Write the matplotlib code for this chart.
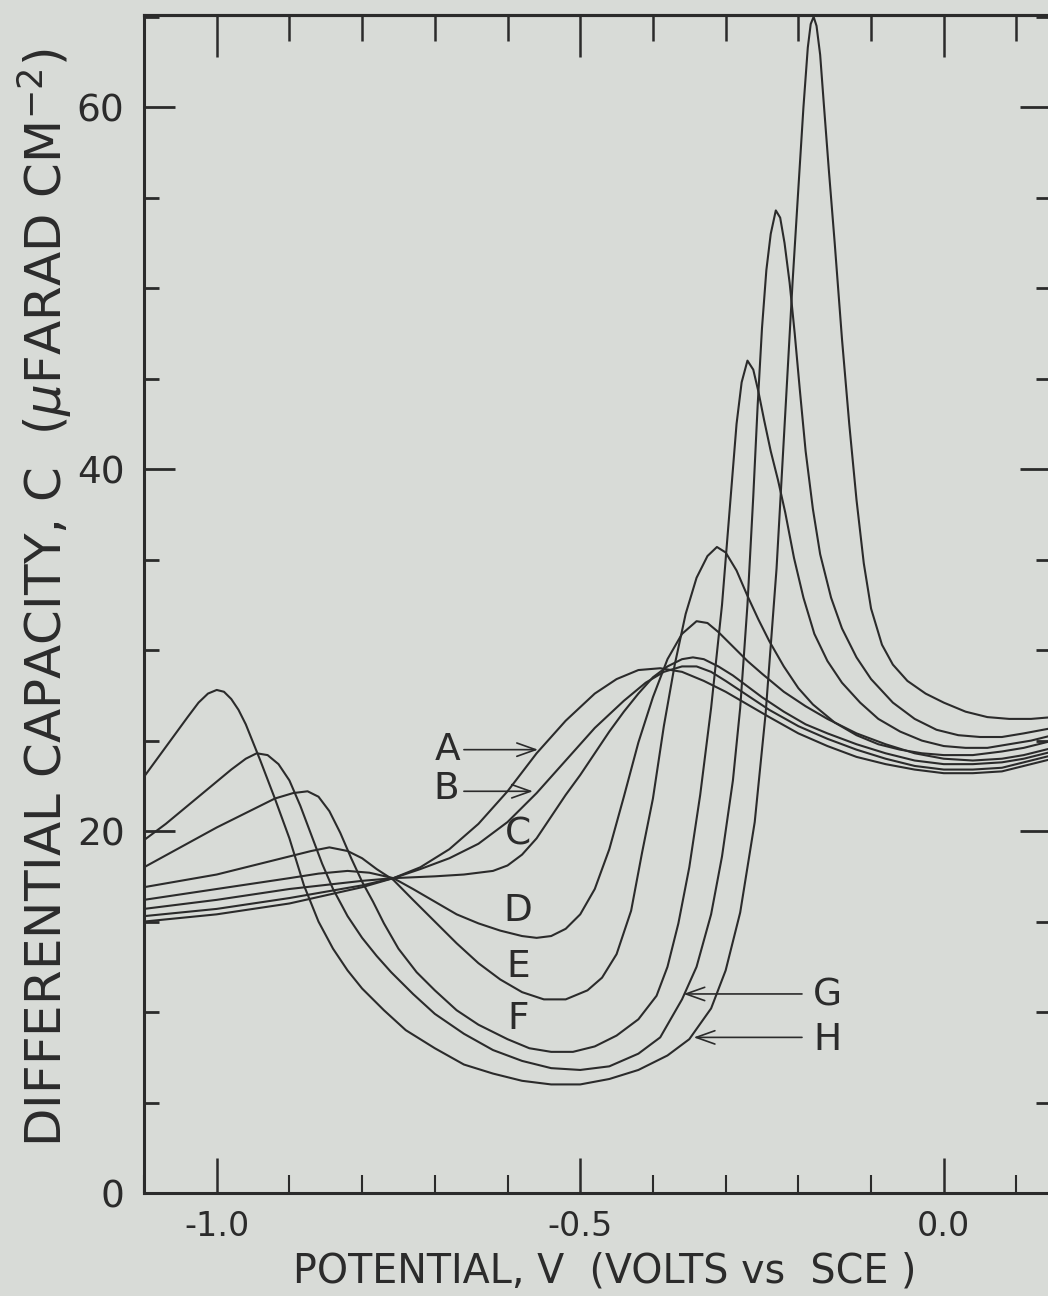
import numpy as np
import matplotlib.pyplot as plt
from matplotlib.ticker import MultipleLocator, FixedLocator

plt.rcParams['axes.unicode_minus'] = False
plt.rcParams['font.family'] = 'DejaVu Sans'

# Capacidad diferencial vs potencial, curvas A-H (volts vs SCE, uF/cm2)
v_a = [-1.1, -1.0, -0.9, -0.8, -0.757, -0.72, -0.68, -0.64, -0.6, -0.56, -0.52, -0.48,
       -0.45, -0.42, -0.39, -0.36, -0.33, -0.3, -0.27, -0.24, -0.2, -0.16, -0.12, -0.08,
       -0.04, 0.0, 0.04, 0.08, 0.11, 0.15]
c_a = [15.0, 15.4, 16.0, 16.9, 17.4, 18.0, 19.0, 20.4, 22.2, 24.3, 26.1, 27.6,
       28.4, 28.9, 29.0, 28.8, 28.3, 27.7, 27.0, 26.3, 25.4, 24.7, 24.1, 23.7,
       23.4, 23.2, 23.2, 23.3, 23.6, 24.0]

v_b = [-1.1, -1.0, -0.9, -0.8, -0.757, -0.72, -0.68, -0.64, -0.6, -0.56, -0.52, -0.48,
       -0.44, -0.41, -0.385, -0.36, -0.34, -0.32, -0.3, -0.27, -0.24, -0.2, -0.16, -0.12,
       -0.08, -0.04, 0.0, 0.04, 0.08, 0.11, 0.15]
c_b = [15.3, 15.7, 16.3, 17.0, 17.4, 17.9, 18.5, 19.3, 20.5, 22.1, 23.9, 25.7,
       27.2, 28.2, 28.8, 29.1, 29.1, 28.8, 28.3, 27.5, 26.7, 25.8, 25.1, 24.5,
       24.0, 23.6, 23.4, 23.4, 23.5, 23.8, 24.2]

v_c = [-1.1, -1.0, -0.9, -0.8, -0.757, -0.7, -0.66, -0.62, -0.6, -0.58, -0.56, -0.54,
       -0.52, -0.5, -0.48, -0.46, -0.44, -0.42, -0.4, -0.38, -0.36, -0.345, -0.33, -0.31,
       -0.29, -0.27, -0.25, -0.22, -0.19, -0.16, -0.12, -0.08, -0.04, 0.0, 0.04, 0.08,
       0.11, 0.15]
c_c = [15.7, 16.2, 16.8, 17.25, 17.4, 17.5, 17.6, 17.8, 18.1, 18.7, 19.6, 20.8,
       22.0, 23.1, 24.3, 25.5, 26.6, 27.6, 28.5, 29.1, 29.5, 29.6, 29.5, 29.1,
       28.6, 28.0, 27.4, 26.6, 25.9, 25.4, 24.8, 24.3, 23.9, 23.7, 23.7, 23.8,
       24.0, 24.4]

v_d = [-1.1, -1.0, -0.95, -0.9, -0.86, -0.82, -0.79, -0.757, -0.73, -0.7, -0.67, -0.64,
       -0.61, -0.58, -0.56, -0.54, -0.52, -0.5, -0.48, -0.46, -0.44, -0.42, -0.4, -0.38,
       -0.36, -0.34, -0.325, -0.31, -0.29, -0.27, -0.25, -0.22, -0.19, -0.16, -0.12,
       -0.08, -0.04, 0.0, 0.04, 0.08, 0.11, 0.15]
c_d = [16.2, 16.8, 17.1, 17.4, 17.65, 17.8, 17.7, 17.4, 16.8, 16.1, 15.4, 14.9,
       14.5, 14.2, 14.1, 14.2, 14.6, 15.4, 16.8, 19.0, 21.9, 24.9, 27.4, 29.5,
       30.9, 31.6, 31.5, 31.0, 30.2, 29.4, 28.7, 27.7, 26.9, 26.2, 25.4,
       24.8, 24.3, 24.0, 23.9, 24.0, 24.2, 24.6]

v_e = [-1.1, -1.0, -0.95, -0.9, -0.87, -0.845, -0.82, -0.8, -0.78, -0.757, -0.73, -0.7,
       -0.67, -0.64, -0.61, -0.58, -0.55, -0.52, -0.49, -0.47, -0.45, -0.43, -0.415, -0.4,
       -0.385, -0.37, -0.355, -0.34, -0.325, -0.312, -0.3, -0.285, -0.27, -0.255, -0.24,
       -0.22, -0.2, -0.18, -0.15, -0.12, -0.09, -0.06, -0.03, 0.0, 0.04, 0.08, 0.11, 0.15]
c_e = [16.9, 17.6, 18.1, 18.6, 18.9, 19.1, 18.9, 18.5, 17.9, 17.3, 16.2, 15.0,
       13.8, 12.7, 11.8, 11.1, 10.7, 10.7, 11.2, 11.9, 13.2, 15.6, 18.8, 21.8,
       25.8, 29.2, 32.0, 34.0, 35.2, 35.7, 35.4, 34.4, 33.0, 31.7, 30.5,
       29.1, 27.9, 27.0, 26.0, 25.3, 24.8, 24.5, 24.3, 24.2, 24.2, 24.4, 24.6, 25.0]

v_f = [-1.1, -1.05, -1.0, -0.95, -0.92, -0.895, -0.875, -0.86, -0.845, -0.83, -0.815, -0.8,
       -0.785, -0.77, -0.75, -0.725, -0.7, -0.67, -0.64, -0.6, -0.57, -0.54, -0.51, -0.48,
       -0.45, -0.42, -0.395, -0.38, -0.365, -0.35, -0.335, -0.32, -0.305, -0.293, -0.285,
       -0.278, -0.27, -0.262, -0.255, -0.247, -0.238, -0.228, -0.218, -0.206, -0.193,
       -0.178, -0.16, -0.14, -0.115, -0.09, -0.06, -0.03, 0.0, 0.03, 0.06, 0.09, 0.12, 0.15]
c_f = [18.0, 19.1, 20.2, 21.2, 21.8, 22.1, 22.2, 21.9, 21.1, 19.9, 18.5, 17.2,
       16.1, 14.9, 13.5, 12.2, 11.2, 10.1, 9.3, 8.5, 8.0, 7.8, 7.8, 8.1,
       8.7, 9.6, 10.9, 12.5, 14.9, 18.0, 22.0, 26.8, 32.5, 38.5, 42.5,
       44.8, 46.0, 45.5, 44.3, 42.7, 41.0, 39.4, 37.6, 35.1, 32.9,
       30.9, 29.4, 28.2, 27.1, 26.2, 25.5, 25.0, 24.7, 24.6, 24.6, 24.8, 25.0, 25.3]

v_g = [-1.1, -1.07, -1.04, -1.01, -0.98, -0.96, -0.945, -0.93, -0.915, -0.9, -0.885,
       -0.87, -0.855, -0.84, -0.82, -0.8, -0.78, -0.76, -0.73, -0.7, -0.66, -0.62, -0.58,
       -0.54, -0.5, -0.46, -0.42, -0.39, -0.36, -0.34, -0.32, -0.305, -0.29, -0.28, -0.27,
       -0.262, -0.256, -0.25, -0.244, -0.238, -0.231, -0.225, -0.219, -0.212, -0.205,
       -0.198, -0.19, -0.18, -0.17, -0.155, -0.14, -0.12, -0.1, -0.07, -0.04, -0.01,
       0.02, 0.05, 0.08, 0.11, 0.15]
c_g = [19.5, 20.4, 21.4, 22.4, 23.4, 24.0, 24.3, 24.2, 23.7, 22.8, 21.4,
       19.8, 18.2, 16.8, 15.3, 14.1, 13.1, 12.2, 11.0, 9.9, 8.8, 7.9, 7.3,
       6.9, 6.8, 7.0, 7.7, 8.6, 10.7, 12.5, 15.4, 18.6, 22.8, 26.8, 32.5,
       38.5, 43.5, 47.8, 51.0, 53.0, 54.3, 53.9, 52.5, 50.3, 47.5,
       44.4, 41.0, 37.8, 35.3, 32.9, 31.2, 29.6, 28.4, 27.1, 26.2, 25.6,
       25.3, 25.2, 25.2, 25.4, 25.7]

v_h = [-1.1, -1.08, -1.06, -1.04, -1.025, -1.012, -1.0, -0.99, -0.98, -0.97, -0.96,
       -0.95, -0.94, -0.92, -0.9, -0.88, -0.86, -0.84, -0.82, -0.8, -0.77, -0.74, -0.7,
       -0.66, -0.62, -0.58, -0.54, -0.5, -0.46, -0.42, -0.38, -0.35, -0.32, -0.3, -0.28,
       -0.26, -0.245, -0.23, -0.217, -0.208, -0.2, -0.193, -0.187, -0.183, -0.179,
       -0.175, -0.17, -0.165, -0.158, -0.15, -0.14, -0.13, -0.12, -0.11, -0.1, -0.085,
       -0.07, -0.05, -0.025, 0.0, 0.03, 0.06, 0.09, 0.12, 0.15]
c_h = [23.0, 24.1, 25.2, 26.3, 27.1, 27.6, 27.8, 27.7, 27.3, 26.7, 25.9,
       24.9, 23.9, 21.8, 19.6, 17.0, 15.0, 13.5, 12.3, 11.3, 10.1, 9.0, 8.0,
       7.1, 6.6, 6.2, 6.0, 6.0, 6.3, 6.8, 7.6, 8.5, 10.2, 12.3, 15.5,
       20.5, 26.5, 34.5, 43.8, 50.3, 55.5, 60.0, 63.3, 64.6, 65.0,
       64.5, 62.9, 60.2, 56.5, 52.5, 47.2, 42.5, 38.3, 34.8, 32.3, 30.3,
       29.2, 28.3, 27.6, 27.1, 26.6, 26.3, 26.2, 26.2, 26.3]

curvas = [(v_a, c_a), (v_b, c_b), (v_c, c_c), (v_d, c_d),
          (v_e, c_e), (v_f, c_f), (v_g, c_g), (v_h, c_h)]

# etiquetas de las curvas: (texto, V, C)
etiquetas = [('A', -0.682, 24.5), ('B', -0.685, 22.3), ('C', -0.586, 19.8),
             ('D', -0.586, 15.6), ('E', -0.586, 12.5), ('F', -0.586, 9.6),
             ('G', -0.160, 10.9), ('H', -0.160, 8.45)]
# flechas: (V cola, V punta, C)
flechas = [(-0.660, -0.558, 24.5), (-0.660, -0.565, 22.2),
           (-0.195, -0.358, 11.0), (-0.195, -0.344, 8.6)]

fondo = '#d8dbd7'
tinta = '#2b2b2b'

fig = plt.figure(figsize=(10.48, 12.96), dpi=100, facecolor=fondo)
# el borde derecho del marco queda justo fuera de la hoja
ax = fig.add_axes([144 / 1048, 103 / 1296, 907 / 1048, 1178 / 1296])
ax.set_facecolor(fondo)

for v, c in curvas:
    ax.plot(v, c, color=tinta, lw=1.5, solid_joinstyle='round')

for txt, v, c in etiquetas:
    ax.text(v, c, txt, fontsize=27, color=tinta, ha='center', va='center')

for cola, punta, c in flechas:
    ax.annotate('', xy=(punta, c), xytext=(cola, c),
                arrowprops=dict(arrowstyle='->,head_length=0.45,head_width=0.16',
                                mutation_scale=30, lw=1.2, color=tinta,
                                shrinkA=0, shrinkB=0))

ax.set_xlim(-1.1, 0.1475)
ax.set_ylim(0, 65.1)

for s in ax.spines.values():
    s.set_linewidth(2.2)
    s.set_color(tinta)

ax.xaxis.set_major_locator(FixedLocator([-1.0, -0.5, 0.0]))
ax.xaxis.set_minor_locator(MultipleLocator(0.1))
ax.set_xticklabels(['-1.0', '-0.5', '0.0'])
ax.yaxis.set_major_locator(MultipleLocator(20))
ax.yaxis.set_minor_locator(MultipleLocator(5))

ax.tick_params(axis='x', which='major', direction='in', length=25, width=1.8,
               labelsize=24, pad=12, colors=tinta)
ax.tick_params(axis='x', which='minor', direction='in', length=13, width=1.5, colors=tinta)
ax.tick_params(axis='y', which='major', direction='in', length=22, width=2.0,
               labelsize=27, pad=14, right=True, colors=tinta)
ax.tick_params(axis='y', which='minor', direction='in', length=11, width=2.0,
               right=True, colors=tinta)

# eje superior con marcas propias
sup = ax.secondary_xaxis('top')
sup.xaxis.set_major_locator(FixedLocator([-1.0, -0.5, 0.0]))
sup.xaxis.set_minor_locator(MultipleLocator(0.1))
sup.tick_params(which='major', direction='in', length=30, width=1.8, labeltop=False, colors=tinta)
sup.tick_params(which='minor', direction='in', length=19, width=1.8, colors=tinta)
sup.spines['top'].set_linewidth(2.2)

fig.text(605 / 1048, 1 - 1272 / 1296, 'POTENTIAL, V  (VOLTS vs  SCE )',
         fontsize=28.5, color=tinta, ha='center', va='center')
fig.text(45 / 1048, 1 - 598 / 1296,
         r'DIFFERENTIAL CAPACITY, C  ($\mu$FARAD CM$^{-2}$)',
         fontsize=36, color=tinta, ha='center', va='center', rotation=90)

fig.savefig('out.png', dpi=100, facecolor=fondo)
